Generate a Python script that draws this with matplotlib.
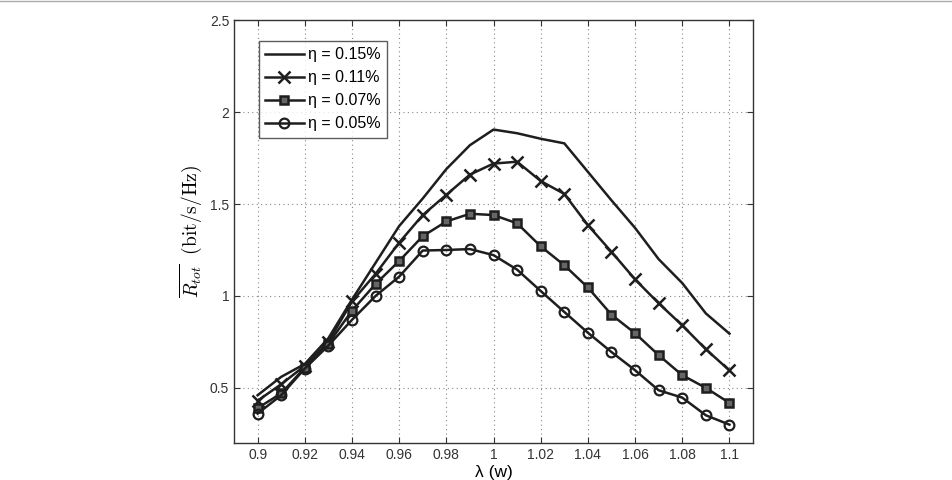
import matplotlib
matplotlib.use('Agg')
import matplotlib.pyplot as plt
from matplotlib.ticker import FormatStrFormatter
from matplotlib.lines import Line2D

plt.rcParams['font.family'] = ['Liberation Sans', 'DejaVu Sans']
plt.rcParams['mathtext.fontset'] = 'cm'

# lambda (w)
lam = [0.90, 0.91, 0.92, 0.93, 0.94, 0.95, 0.96, 0.97, 0.98, 0.99, 1.00,
       1.01, 1.02, 1.03, 1.04, 1.05, 1.06, 1.07, 1.08, 1.09, 1.10]

eta_015 = [0.46, 0.56, 0.63, 0.77, 0.98, 1.18, 1.38, 1.53, 1.69, 1.82, 1.905,
           1.885, 1.855, 1.83, 1.675, 1.52, 1.37, 1.20, 1.07, 0.905, 0.795]
eta_011 = [0.43, 0.52, 0.62, 0.75, 0.97, 1.12, 1.29, 1.44, 1.55, 1.66, 1.72,
           1.73, 1.625, 1.555, 1.385, 1.24, 1.09, 0.96, 0.84, 0.71, 0.595]
eta_007 = [0.39, 0.47, 0.61, 0.74, 0.92, 1.065, 1.19, 1.325, 1.405, 1.447, 1.44,
           1.395, 1.27, 1.167, 1.046, 0.898, 0.797, 0.678, 0.569, 0.50, 0.418]
eta_005 = [0.36, 0.46, 0.605, 0.73, 0.87, 1.0, 1.105, 1.247, 1.25, 1.255, 1.222,
           1.143, 1.027, 0.913, 0.80, 0.695, 0.596, 0.487, 0.447, 0.351, 0.30]

labels = ['η = 0.15%', 'η = 0.11%', 'η = 0.07%', 'η = 0.05%']
xticks = [0.9, 0.92, 0.94, 0.96, 0.98, 1.0, 1.02, 1.04, 1.06, 1.08, 1.1]
yticks = [0.5, 1.0, 1.5, 2.0, 2.5]

fig = plt.figure(figsize=(9.52, 4.8), dpi=100)
ax = fig.add_axes([0.2458, 0.077, 0.5452, 0.881])

c = '#1e1e1e'
ax.plot(lam, eta_015, color=c, lw=1.8, label=labels[0])
ax.plot(lam, eta_011, color=c, lw=1.8, marker='x', ms=9, mew=1.8, label=labels[1])
ax.plot(lam, eta_007, color=c, lw=1.8, marker='s', ms=6, mew=1.8,
        mfc='#666666', label=labels[2])
ax.plot(lam, eta_005, color=c, lw=1.8, marker='o', ms=7, mew=1.6,
        mfc='none', label=labels[3])

ax.set_xlim(0.89, 1.11)
ax.set_ylim(0.2, 2.5)
ax.set_xticks(xticks)
ax.set_yticks(yticks)
ax.xaxis.set_major_formatter(FormatStrFormatter('%g'))
ax.yaxis.set_major_formatter(FormatStrFormatter('%g'))
ax.tick_params(direction='in', top=True, right=True, length=4,
               labelsize=10, colors='#333333')
ax.grid(True, linestyle=(0, (1, 3)), color='#888888', lw=0.8)
for s in ax.spines.values():
    s.set_color('#333333')
    s.set_linewidth(1.0)

ax.set_xlabel('λ (w)', fontsize=12.5, labelpad=2)
ax.set_ylabel(r'$\overline{R_{tot}}\ \ \mathrm{(bit/s/Hz)}$', fontsize=14, labelpad=4)

leg = ax.legend(loc='upper left', bbox_to_anchor=(0.048, 0.951), fontsize=11.5,
                frameon=True, fancybox=False, edgecolor='#333333',
                handlelength=2.4, handletextpad=0.3, borderpad=0.4,
                labelspacing=0.5, borderaxespad=0)
leg.get_frame().set_linewidth(1.0)

# thin frame line at top of figure
fig.add_artist(Line2D([0, 1], [0.997, 0.997], color='#aaaaaa', lw=1))

fig.savefig('out.png', dpi=100)
